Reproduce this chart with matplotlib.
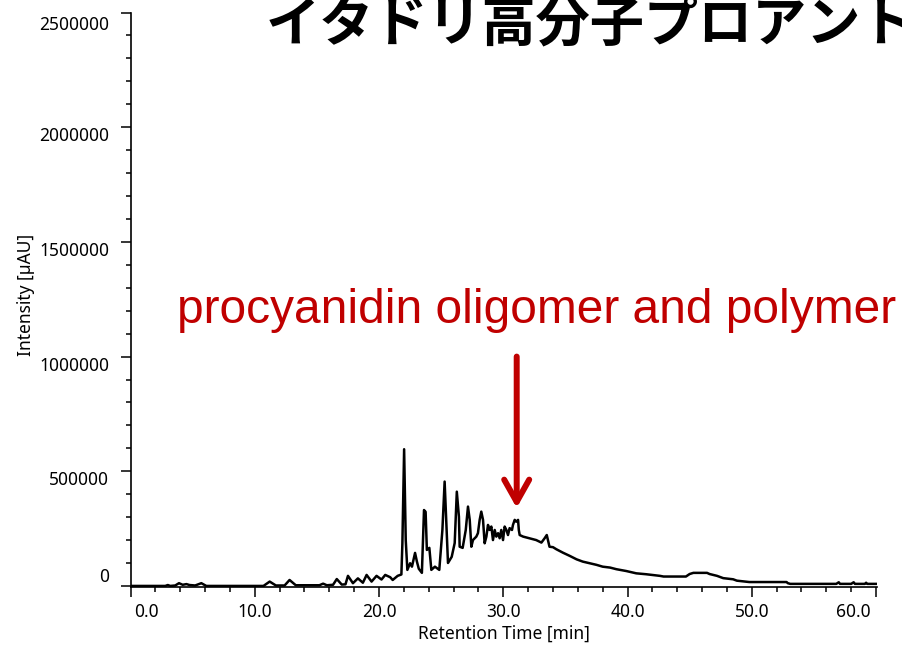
import numpy as np
import matplotlib
matplotlib.use('Agg')
import matplotlib.pyplot as plt
from matplotlib.ticker import MultipleLocator
from matplotlib.transforms import ScaledTranslation

# chromatogram (time in min, intensity in uAU)
retention = [0.0, 1.5, 2.8, 3.0, 3.2, 3.6, 3.9, 4.2, 4.5, 4.75, 5.2, 5.7, 6.1,
             10.7, 11.2, 11.7, 12.4, 12.8, 13.3, 15.2, 15.5, 15.8, 16.3, 16.6,
             17.0, 17.3, 17.5, 17.9, 18.3, 18.7, 19.0, 19.4, 19.8, 20.2, 20.5,
             20.9, 21.1, 21.5, 21.8, 21.88, 22.02, 22.15, 22.28, 22.5, 22.65,
             22.9, 23.05, 23.2, 23.45, 23.62, 23.75, 23.85, 24.05, 24.21, 24.5,
             24.85, 25.1, 25.28, 25.42, 25.55, 25.85, 26.09, 26.26, 26.43, 26.49,
             26.73, 26.98, 27.16, 27.3, 27.43, 27.56, 27.83, 27.96, 28.1, 28.23,
             28.37, 28.5, 28.64, 28.77, 28.9, 29.04, 29.17, 29.31, 29.44, 29.58,
             29.71, 29.84, 29.98, 30.11, 30.25, 30.38, 30.51, 30.7, 30.78, 30.92,
             31.05, 31.19, 31.25, 31.32, 31.6, 32.1, 32.65, 33.07, 33.33, 33.5,
             33.72, 34.0, 34.27, 34.8, 35.35, 35.9, 36.4, 36.95, 37.5, 38.0,
             38.6, 39.1, 39.9, 40.7, 41.5, 42.6, 42.9, 44.7, 45.0, 45.3, 46.4,
             46.6, 47.2, 47.7, 48.5, 48.8, 49.8, 52.8, 52.9, 53.1, 56.8, 57.0,
             57.1, 58.0, 58.2, 58.3, 59.1, 59.2, 59.3, 60.1]
intensity = [0, 0, 0, 4000, 0, 2000, 12000, 5000, 8000, 4000, 2000, 12000, 0,
             0, 19000, 2000, 2000, 26000, 3000, 3000, 10000, 3000, 5000, 30000,
             6000, 7000, 44000, 12000, 33000, 14000, 48000, 19000, 44000, 28000, 48000,
             38000, 26000, 44000, 50000, 185000, 596000, 200000, 70000, 99000, 84000,
             144000, 106000, 75000, 57000, 331000, 323000, 157000, 166000, 70000, 84000,
             70000, 244000, 455000, 275000, 100000, 127000, 187000, 411000, 302000, 171000,
             166000, 244000, 346000, 288000, 171000, 200000, 215000, 230000, 288000, 324000,
             288000, 186000, 215000, 266000, 244000, 259000, 200000, 244000, 215000, 230000,
             208000, 244000, 200000, 259000, 244000, 222000, 252000, 244000, 266000, 288000,
             280000, 288000, 244000, 222000, 215000, 208000, 200000, 189000, 208000, 222000,
             171000, 169000, 160000, 145000, 131000, 116000, 106000, 99000, 92000, 84000,
             80000, 73000, 65000, 55000, 51000, 44000, 41000, 41000, 52000, 57000, 57000,
             52000, 44000, 34000, 29000, 23000, 17000, 17000, 12000, 9000, 9000, 16000,
             9000, 9000, 16000, 9000, 9000, 14000, 9000, 9000]

x_ticks = [0, 10, 20, 30, 40, 50, 60]
x_labels = ['0.0', '10.0', '20.0', '30.0', '40.0', '50.0', '60.0']
y_ticks = [0, 500000, 1000000, 1500000, 2000000, 2500000]
y_labels = ['0', '500000', '1000000', '1500000', '2000000', '2500000']

title = 'イタドリ高分子プロアントシアニジン'
note = 'procyanidin oligomer and polymer'
arrow_x = 31.08
arrow_top = 1000000
arrow_tip = 340000

red = '#C00000'

plt.rcParams['font.family'] = ['Noto Sans', 'DejaVu Sans']

fig = plt.figure(figsize=(9.02, 6.49), dpi=100)
ax = fig.add_axes([0.1447, 0.0954, 0.8272, 0.8853])

ax.plot(retention, intensity, color='black', lw=1.8)

ax.set_xlim(0, 60.05)
ax.set_ylim(-5000, 2500000)

for s in ['top', 'right']:
    ax.spines[s].set_visible(False)
for s in ['left', 'bottom']:
    ax.spines[s].set_linewidth(1.2)

ax.set_xticks(x_ticks)
ax.set_xticklabels(x_labels)
ax.set_yticks(y_ticks)
ax.set_yticklabels(y_labels)
ax.xaxis.set_minor_locator(MultipleLocator(2))
ax.yaxis.set_minor_locator(MultipleLocator(100000))
ax.tick_params(which='major', direction='out', length=7.2, width=1.1, labelsize=12.5)
ax.tick_params(which='minor', direction='out', length=3.6, width=1.1)
ax.tick_params(axis='y', pad=8)
ax.tick_params(axis='x', pad=4)

# label nudges like the original software
xl = ax.get_xticklabels()
xl[0].set_ha('left')
xl[0].set_transform(xl[0].get_transform() + ScaledTranslation(0.04, 0, fig.dpi_scale_trans))
xl[-1].set_ha('right')
xl[-1].set_transform(xl[-1].get_transform() + ScaledTranslation(-0.05, 0, fig.dpi_scale_trans))
yl = ax.get_yticklabels()
for lab in yl:
    lab.set_va('top')
yl[0].set_va('bottom')
yl[-1].set_transform(yl[-1].get_transform() + ScaledTranslation(0, -0.03, fig.dpi_scale_trans))

ax.set_xlabel('Retention Time [min]', fontsize=12.5, va='center')
ax.xaxis.set_label_coords(0.5, -0.0816)
ax.set_ylabel('Intensity [µAU]', fontsize=12.5, va='center')
ax.yaxis.set_label_coords(-0.140, 0.508)

ax.text(32.7, 1147000, note, color=red, fontsize=34.5, family='Liberation Sans',
        ha='center', va='baseline')
ax.annotate('', xy=(arrow_x, arrow_tip), xytext=(arrow_x, arrow_top),
            arrowprops=dict(arrowstyle='->,head_length=0.8,head_width=0.45',
                            color=red, lw=4.3, mutation_scale=20,
                            shrinkA=0, shrinkB=0))

fig.text(0.294, 0.937, title, fontsize=39, fontweight='bold',
         family=['Noto Sans CJK JP', 'DejaVu Sans'], ha='left', va='baseline')

fig.savefig('out.png', dpi=100)
